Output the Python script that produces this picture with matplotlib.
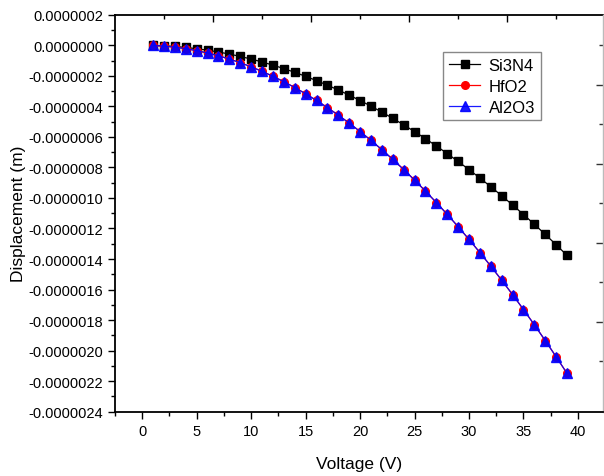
import matplotlib
matplotlib.use("Agg")
import matplotlib.pyplot as plt
import numpy as np

plt.rcParams['font.family'] = ['Liberation Sans', 'DejaVu Sans']

# applied voltage (V)
voltage = list(range(1, 40))

# beam displacement in nm (negative = downward)
disp_si3n4 = [-0.9, -3.6, -8.1, -14.5, -22.6, -32.6, -44.3, -57.9, -73.3, -90.5,
              -109.5, -130.3, -152.9, -177.4, -203.6, -231.7, -261.5, -293.2, -326.7, -362.0,
              -399.1, -438.0, -478.7, -521.3, -565.6, -611.8, -659.7, -709.5, -761.1, -814.5,
              -869.7, -926.7, -985.6, -1046.2, -1108.6, -1172.9, -1238.9, -1306.8, -1376.5]
disp_hfo2 = [-1.4, -5.7, -12.7, -22.6, -35.3, -50.9, -69.2, -90.4, -114.5, -141.3,
             -171.0, -203.5, -238.8, -276.9, -317.9, -361.7, -408.4, -457.8, -510.1, -565.2,
             -623.1, -683.9, -747.5, -813.9, -883.1, -955.2, -1030.1, -1107.8, -1188.3, -1271.7,
             -1357.9, -1446.9, -1538.8, -1633.4, -1730.9, -1831.2, -1934.4, -2040.4, -2149.2]
disp_al2o3 = [-1.4, -5.7, -12.7, -22.6, -35.3, -50.9, -69.2, -90.4, -114.5, -141.3,
              -171.0, -203.5, -238.8, -276.9, -317.9, -361.7, -408.4, -457.8, -510.1, -565.2,
              -623.1, -683.9, -747.5, -813.9, -883.1, -955.2, -1030.1, -1107.8, -1188.3, -1271.7,
              -1357.9, -1446.9, -1538.8, -1633.4, -1730.9, -1831.2, -1934.4, -2040.4, -2149.2]

nm = 1e-9

fig = plt.figure(figsize=(6.04, 4.77), dpi=100)
ax = fig.add_axes([115/604, 64.3/477, 488/604, 397/477])

ax.plot(voltage, np.array(disp_si3n4)*nm, color='black', lw=0.9,
        marker='s', ms=6, label='Si3N4')
ax.plot(voltage, np.array(disp_hfo2)*nm, color='red', lw=0.9,
        marker='o', ms=5.5, label='HfO2')
ax.plot(voltage, np.array(disp_al2o3)*nm, color='blue', lw=0.9, alpha=0.9,
        marker='^', ms=7.5, label='Al2O3')

ax.set_xlim(-2.5, 42.3)
ax.set_ylim(-2.4e-6, 0.2e-6)

ax.set_xticks(np.arange(0, 41, 5))
ax.set_xticks(np.arange(-2.5, 42, 2.5), minor=True)
yt = np.arange(-24, 3, 2) * 1e-7
ax.set_yticks(yt)
ax.set_yticklabels(['%.7f' % v for v in yt])
ax.set_yticks(np.arange(-23, 3, 2) * 1e-7, minor=True)

ax.tick_params(axis='both', which='major', direction='out', length=5, width=1,
               labelsize=10.5, top=False, right=False)
ax.tick_params(axis='both', which='minor', direction='out', length=3, width=1,
               top=False, right=False)
ax.tick_params(axis='x', labelsize=10.5)

# frame ticks on top and right run on their own spacing
top = ax.secondary_xaxis('top')
top.set_xticks([6.5, 15.5, 24.5, 33.5])
top.set_xticks([2, 11, 20, 29, 38], minor=True)
top.tick_params(which='major', direction='in', length=5, width=1, labeltop=False)
top.tick_params(which='minor', direction='in', length=3, width=1)
top.spines['top'].set_linewidth(1.3)

right = ax.secondary_yaxis('right')
right.set_yticks(np.array([-0.261, -0.779, -1.296, -1.814]) * 1e-6)
right.set_yticks(np.array([0.0, -0.517, -1.035, -1.553, -2.070]) * 1e-6, minor=True)
right.tick_params(which='major', direction='in', length=5, width=1, labelright=False,
                  color='#333333')
right.tick_params(which='minor', direction='in', length=3, width=1, color='#333333')
right.spines['right'].set_color('#bbbbbb')
right.spines['right'].set_linewidth(1)

for s in ['left', 'bottom']:
    ax.spines[s].set_linewidth(1.3)
ax.spines['top'].set_visible(False)
ax.spines['right'].set_visible(False)

ax.set_xlabel('Voltage (V)', fontsize=12.5, labelpad=13)
ax.set_ylabel('Displacement (m)', fontsize=12.5, labelpad=2)

leg = ax.legend(loc='upper left', bbox_to_anchor=(0.672, 0.906), fontsize=12,
                fancybox=False, edgecolor='#888888', framealpha=1,
                handlelength=1.9, labelspacing=0.35, borderpad=0.35,
                handletextpad=0.5, borderaxespad=0)
leg.get_frame().set_linewidth(1)

fig.savefig('out.png', dpi=100)
